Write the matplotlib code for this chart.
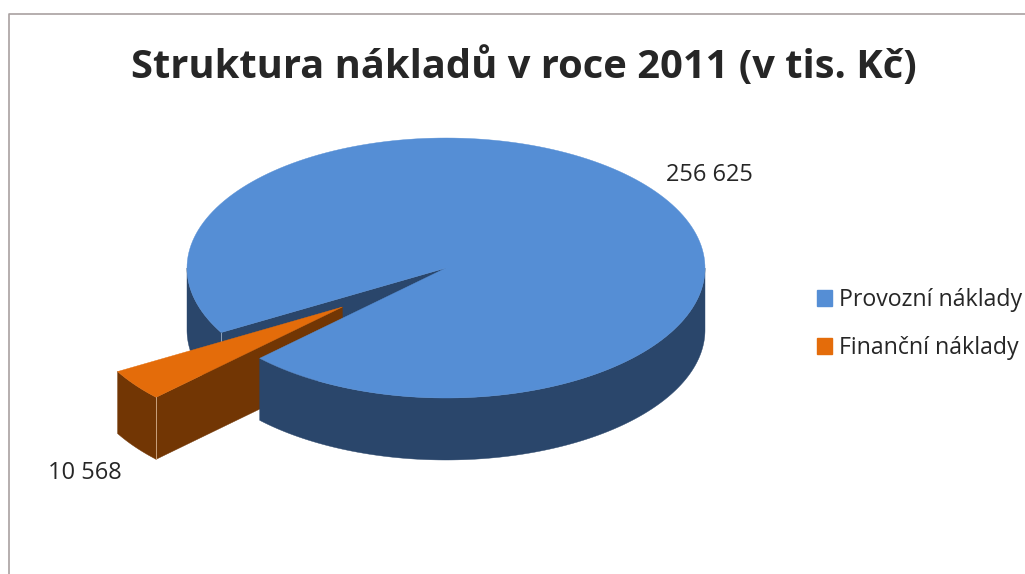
import numpy as np
import matplotlib
matplotlib.use('Agg')
import matplotlib.pyplot as plt
from matplotlib.patches import Polygon, Patch

title = 'Struktura nákladů v roce 2011 (v tis. Kč)'
categories = ['Provozní náklady', 'Finanční náklady']
values = [256625, 10568]
value_labels = ['256 625', '10 568']

top_colors = ['#558ED5', '#E46C0A']
side_colors = ['#2A466B', '#723604']
text_color = '#262626'

# pie geometry, in pixels of the 1025x574 picture
cx, cy = 446, 268
rx, ry = 259, 130
depth = 62
first_angle = 136.0
explode = 0.5


def rim(a0, a1, ox=0.0, oy=0.0, n=200):
    t = np.radians(np.linspace(a0, a1, n))
    return np.column_stack([ox + rx * np.cos(t), oy + ry * np.sin(t)])


def top_poly(a0, a1, ox, oy):
    return np.vstack([[ox, oy], rim(a0, a1, ox, oy)])


def extrude(line):
    return np.vstack([line, line[::-1] + [0, depth]])


def add(ax, pts, color, z):
    ax.add_patch(Polygon(pts, closed=True, facecolor=color, edgecolor=color, linewidth=0.3, zorder=z))


fig = plt.figure(figsize=(10.25, 5.74), dpi=100)
ax = fig.add_axes([0, 0, 1, 1])
ax.set_xlim(0, 1025)
ax.set_ylim(574, 0)
ax.axis('off')

# chart frame, only left and top are inside the picture
ax.plot([9, 9, 1025], [574, 13.5, 13.5], color='#A9A1A1', linewidth=1.2, zorder=1)

sweep = 360.0 * np.array(values) / sum(values)
small0 = first_angle
small1 = small0 + sweep[1]
big0 = small1
big1 = big0 + sweep[0]

# small slice is pulled out along its middle angle
mid = np.radians((small0 + small1) / 2)
sx = cx + explode * rx * np.cos(mid)
sy = cy + explode * ry * np.sin(mid)

# big slice: left rim and the inner wall seen through the gap
add(ax, extrude(rim(big0, 180, cx, cy)), side_colors[0], 2)
wall = np.array([[cx, cy], rim(big0, big0, cx, cy, 1)[0]])
add(ax, extrude(wall), side_colors[0], 2)

# small slice sides
add(ax, extrude(rim(small0, small1, sx, sy)), side_colors[1], 3)
wall = np.array([[sx, sy], rim(small0, small0, sx, sy, 1)[0]])
add(ax, extrude(wall), side_colors[1], 3)

# big slice front rim and top go over the small slice wall
add(ax, extrude(rim(0, first_angle, cx, cy)), side_colors[0], 4)
add(ax, top_poly(big0, big1, cx, cy), top_colors[0], 5)

add(ax, top_poly(small0, small1, sx, sy), top_colors[1], 6)

# thin light corner lines
p = rim(small0, small0, sx, sy, 1)[0]
ax.plot([p[0], p[0]], [p[1], p[1] + depth], color='#C9A27E', linewidth=0.7, zorder=6)
p = rim(big0, big0, cx, cy, 1)[0]
ax.plot([p[0], p[0]], [p[1], p[1] + 22], color='#8FA3BD', linewidth=0.7, zorder=4)

ax.text(523.5, 67, title, fontsize=28.7, fontweight='bold', family='Open Sans',
        color=text_color, ha='center', va='center')
ax.text(709.5, 175, value_labels[0], fontsize=17, family='Open Sans',
        color=text_color, ha='center', va='center')
ax.text(85, 473, value_labels[1], fontsize=17, family='Open Sans',
        color=text_color, ha='center', va='center')

handles = [Patch(facecolor=c, edgecolor=c, label=l) for c, l in zip(top_colors, categories)]
ax.legend(handles=handles, loc='upper left', bbox_to_anchor=(817, 288), bbox_transform=ax.transData,
          frameon=False, handlelength=0.65, handleheight=0.65, handletextpad=0.3, labelspacing=1.04,
          borderpad=0, borderaxespad=0,
          prop={'family': 'Open Sans', 'size': 16.7}, labelcolor=text_color)

fig.savefig('out.png', dpi=100, facecolor='white')
